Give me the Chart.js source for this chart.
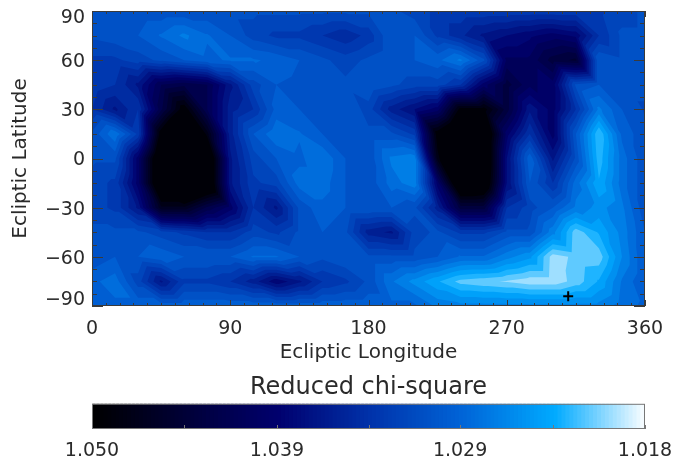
<!DOCTYPE html>
<html>
<head>
<meta charset="utf-8">
<title>Reduced chi-square map</title>
<script src="https://cdn.jsdelivr.net/npm/chart.js@4"></script>
<style>
  body { margin: 0; background: #fff; }
  canvas { display: block; }
</style>
</head>
<body>
<canvas id="mapChart" width="673" height="368"></canvas>
<canvas id="barChart" width="673" height="94"></canvas>
<script>
const longitudes = [0, 15, 30, 45, 60, 75, 90, 105, 120, 135, 150, 165, 180, 195, 210, 225, 240, 255, 270, 285, 300, 315, 330, 345, 360];
const latitudes = [90, 75, 60, 45, 30, 15, 0, -15, -30, -45, -60, -75, -90];

// Reduced chi-square, one row per latitude
const chiLat90 = [1.031, 1.031, 1.031, 1.031, 1.031, 1.031, 1.031, 1.031, 1.031, 1.031, 1.031, 1.031, 1.031, 1.031, 1.032, 1.033, 1.033, 1.033, 1.033, 1.033, 1.033, 1.033, 1.033, 1.032, 1.031];
const chiLat75 = [1.031, 1.0305, 1.030, 1.0285, 1.027, 1.0285, 1.030, 1.032, 1.033, 1.033, 1.034, 1.035, 1.0335, 1.030, 1.030, 1.033, 1.035, 1.037, 1.038, 1.039, 1.040, 1.039, 1.034, 1.031, 1.031];
const chiLat60 = [1.033, 1.033, 1.032, 1.031, 1.030, 1.029, 1.0285, 1.0285, 1.029, 1.030, 1.031, 1.032, 1.031, 1.030, 1.030, 1.029, 1.027, 1.031, 1.041, 1.041, 1.044, 1.045, 1.030, 1.031, 1.031];
const chiLat45 = [1.033, 1.034, 1.037, 1.042, 1.043, 1.042, 1.037, 1.032, 1.030, 1.0305, 1.031, 1.031, 1.030, 1.031, 1.032, 1.032, 1.034, 1.040, 1.044, 1.041, 1.040, 1.031, 1.030, 1.031, 1.031];
const chiLat30 = [1.034, 1.037, 1.034, 1.043, 1.050, 1.042, 1.036, 1.034, 1.0295, 1.030, 1.030, 1.030, 1.032, 1.036, 1.038, 1.040, 1.0495, 1.0495, 1.044, 1.037, 1.040, 1.034, 1.027, 1.030, 1.0315];
const chiLat15 = [1.031, 1.0275, 1.033, 1.050, 1.058, 1.048, 1.036, 1.030, 1.0275, 1.0285, 1.030, 1.031, 1.031, 1.031, 1.033, 1.050, 1.056, 1.054, 1.040, 1.034, 1.040, 1.030, 1.022, 1.029, 1.031];
const chiLat0 = [1.031, 1.031, 1.040, 1.054, 1.058, 1.054, 1.037, 1.032, 1.030, 1.029, 1.0275, 1.030, 1.031, 1.027, 1.0265, 1.048, 1.056, 1.054, 1.038, 1.029, 1.037, 1.031, 1.0225, 1.028, 1.031];
const chiLatS15 = [1.032, 1.033, 1.040, 1.054, 1.058, 1.054, 1.037, 1.033, 1.032, 1.028, 1.028, 1.030, 1.031, 1.028, 1.0265, 1.040, 1.054, 1.053, 1.038, 1.030, 1.034, 1.028, 1.0235, 1.028, 1.031];
const chiLatS30 = [1.032, 1.033, 1.037, 1.047, 1.047, 1.043, 1.040, 1.034, 1.037, 1.031, 1.029, 1.030, 1.030, 1.030, 1.031, 1.036, 1.044, 1.044, 1.034, 1.032, 1.030, 1.027, 1.0255, 1.027, 1.031];
const chiLatS45 = [1.031, 1.031, 1.031, 1.032, 1.033, 1.034, 1.034, 1.032, 1.033, 1.031, 1.030, 1.031, 1.036, 1.037, 1.032, 1.031, 1.033, 1.033, 1.031, 1.031, 1.0265, 1.0212, 1.0235, 1.0265, 1.030];
const chiLatS60 = [1.031, 1.030, 1.030, 1.029, 1.030, 1.030, 1.030, 1.0285, 1.0285, 1.030, 1.031, 1.030, 1.031, 1.031, 1.031, 1.030, 1.0285, 1.0285, 1.0265, 1.025, 1.020, 1.021, 1.0212, 1.026, 1.030];
const chiLatS75 = [1.029, 1.028, 1.032, 1.037, 1.033, 1.033, 1.034, 1.036, 1.039, 1.037, 1.034, 1.033, 1.031, 1.0275, 1.0255, 1.0235, 1.0215, 1.021, 1.0205, 1.0198, 1.0198, 1.0212, 1.0235, 1.0275, 1.030];
const chiLatS90 = [1.029, 1.029, 1.029, 1.029, 1.029, 1.029, 1.029, 1.029, 1.029, 1.029, 1.029, 1.029, 1.029, 1.029, 1.029, 1.027, 1.0265, 1.0265, 1.0265, 1.0265, 1.0265, 1.0265, 1.0265, 1.028, 1.029];
const chiRows = [chiLat90, chiLat75, chiLat60, chiLat45, chiLat30, chiLat15, chiLat0, chiLatS15, chiLatS30, chiLatS45, chiLatS60, chiLatS75, chiLatS90];

// The + marker
const markerLon = [310];
const markerLat = [-84];

const barTicks = [1.05, 1.0447, 1.0393, 1.034, 1.0287, 1.0233, 1.018];
const barLabels = ["1.050", "", "1.039", "", "1.029", "", "1.018"];

const chiMin = 1.018;
const chiMax = 1.05;
const bandCount = 24;

// chi value -> colour, same table as the colour bar
const colourStops = [
  [1.05, 0, 0, 0],
  [1.0447, 0, 0, 55],
  [1.0393, 0, 0, 110],
  [1.034, 0, 50, 170],
  [1.0287, 0, 100, 215],
  [1.0233, 0, 170, 255],
  [1.018, 255, 255, 255],
];

function chiColour(v) {
  for (let i = 1; i < colourStops.length; i++) {
    const a = colourStops[i - 1];
    const b = colourStops[i];
    if (v >= b[0]) {
      const t = (a[0] - v) / (a[0] - b[0]);
      const mix = (k) => Math.round(a[k] + (b[k] - a[k]) * Math.max(t, 0));
      return "rgb(" + mix(1) + "," + mix(2) + "," + mix(3) + ")";
    }
  }
  return "rgb(255,255,255)";
}

// Part of a triangle where value >= level
function clipTriangle(tri, level) {
  const out = [];
  for (let i = 0; i < 3; i++) {
    const p = tri[i];
    const q = tri[(i + 1) % 3];
    if (p.v >= level) out.push(p);
    if ((p.v >= level) !== (q.v >= level)) {
      const t = (level - p.v) / (q.v - p.v);
      out.push({ x: p.x + (q.x - p.x) * t, y: p.y + (q.y - p.y) * t, v: level });
    }
  }
  return out;
}

const filledContours = {
  id: "filledContours",
  beforeDatasetsDraw(chart) {
    const { ctx, chartArea, scales } = chart;
    const pts = chart.data.datasets[0].data;
    const cols = longitudes.length;
    const px = pts.map((p) => ({ x: scales.x.getPixelForValue(p.x), y: scales.y.getPixelForValue(p.y), v: p.v }));
    const tris = [];
    for (let r = 0; r < latitudes.length - 1; r++) {
      for (let c = 0; c < cols - 1; c++) {
        const a = px[r * cols + c];
        const b = px[r * cols + c + 1];
        const d = px[(r + 1) * cols + c];
        const e = px[(r + 1) * cols + c + 1];
        tris.push([a, b, e], [a, e, d]);
      }
    }
    ctx.save();
    ctx.beginPath();
    ctx.rect(chartArea.left, chartArea.top, chartArea.width, chartArea.height);
    ctx.clip();
    const step = (chiMax - chiMin) / bandCount;
    for (let n = 0; n < bandCount; n++) {
      const level = chiMin + n * step;
      ctx.fillStyle = chiColour(level + step / 2);
      ctx.beginPath();
      tris.forEach((tri) => {
        const poly = n === 0 ? tri : clipTriangle(tri, level);
        if (poly.length < 3) return;
        ctx.moveTo(poly[0].x, poly[0].y);
        for (let i = 1; i < poly.length; i++) ctx.lineTo(poly[i].x, poly[i].y);
        ctx.closePath();
      });
      ctx.fill();
    }
    ctx.restore();
  },
};

// IDL keeps the end labels inside the axis and sits the rest slightly low
const nudgeLatLabels = {
  id: "nudgeLatLabels",
  beforeDraw(chart) {
    const items = chart.scales.y.getLabelItems(chart.chartArea);
    items.forEach((item) => {
      if (item.label === "") return;
      const shift = item.label === "90" ? 7 : item.label === "\u221290" ? -6 : 2;
      if (!item.nudged) {
        item.options.translation[1] += shift;
        item.nudged = true;
      }
    });
  },
};

// IDL style ticks, pointing into the plot
const insideTicks = {
  id: "insideTicks",
  afterDraw(chart, args, opts) {
    const { ctx, chartArea: area, scales } = chart;
    ctx.save();
    ctx.strokeStyle = opts.colour;
    ctx.lineWidth = 1;
    ctx.beginPath();
    scales.x.ticks.forEach((t) => {
      const x = Math.round(scales.x.getPixelForValue(t.value)) + 0.5;
      const len = t.label !== "" ? opts.xMajor : opts.xMinor;
      ctx.moveTo(x, area.bottom);
      ctx.lineTo(x, area.bottom - len);
      if (opts.mirror) {
        ctx.moveTo(x, area.top);
        ctx.lineTo(x, area.top + len);
      }
    });
    if (opts.mirror) {
      scales.y.ticks.forEach((t) => {
        const y = Math.round(scales.y.getPixelForValue(t.value)) + 0.5;
        const len = t.label !== "" ? opts.yMajor : opts.yMinor;
        ctx.moveTo(area.left, y);
        ctx.lineTo(area.left + len, y);
        ctx.moveTo(area.right, y);
        ctx.lineTo(area.right - len, y);
      });
    }
    ctx.stroke();
    ctx.strokeRect(area.left + 0.5, area.top + 0.5, area.width - 1, area.height - 1);
    ctx.restore();
  },
};

const textColour = "#2a2a2a";
const fontName = "'DejaVu Sans'";

new Chart(document.getElementById("mapChart").getContext("2d"), {
  type: "scatter",
  plugins: [filledContours, nudgeLatLabels, insideTicks],
  data: {
    datasets: [
      {
        label: "chi",
        data: latitudes.flatMap((lat, r) => longitudes.map((lon, c) => ({ x: lon, y: lat, v: chiRows[r][c] }))),
        pointRadius: 0,
      },
      {
        label: "marker",
        data: markerLon.map((lon, i) => ({ x: lon, y: markerLat[i] })),
        pointStyle: "cross",
        pointRadius: 5,
        borderWidth: 2,
        borderColor: "#000",
      },
    ],
  },
  options: {
    responsive: false,
    animation: false,
    layout: { padding: { top: 11, right: 28, left: 0, bottom: 0 } },
    plugins: {
      legend: { display: false },
      tooltip: { enabled: false },
      insideTicks: { colour: "#3a3a3a", xMajor: 6, xMinor: 3, yMajor: 11, yMinor: 5, mirror: true },
    },
    scales: {
      x: {
        type: "linear",
        min: 0,
        max: 360,
        afterFit: (scale) => {
          scale.height = 62;
          scale.paddingLeft = 0;
          scale.paddingRight = 0;
        },
        grid: { display: false, drawTicks: false },
        border: { display: false },
        ticks: {
          stepSize: 9,
          autoSkip: false,
          maxRotation: 0,
          padding: 12,
          color: textColour,
          font: { family: fontName, size: 19 },
          callback: (v) => (v % 90 === 0 ? String(v) : ""),
        },
        title: {
          display: true,
          text: "Ecliptic Longitude",
          color: textColour,
          padding: { top: 0, bottom: 3 },
          font: { family: fontName, size: 20 },
        },
      },
      y: {
        type: "linear",
        min: -90,
        max: 90,
        afterFit: (scale) => {
          scale.width = 92;
          scale.paddingTop = 0;
          scale.paddingBottom = 0;
        },
        grid: { display: false, drawTicks: false },
        border: { display: false },
        ticks: {
          stepSize: 7.5,
          autoSkip: false,
          padding: 7,
          color: textColour,
          font: { family: fontName, size: 19 },
          callback: (v) => (v % 30 === 0 ? String(v).replace("-", "\u2212") : ""),
        },
        title: {
          display: true,
          text: "Ecliptic Latitude",
          color: textColour,
          padding: { top: 9, bottom: 0 },
          font: { family: fontName, size: 20 },
        },
      },
    },
  },
});

// Colour bar: one thin bar per colour step
const barValues = [];
for (let i = 0; i <= 140; i++) barValues.push(chiMin + ((chiMax - chiMin) * i) / 140);

new Chart(document.getElementById("barChart").getContext("2d"), {
  type: "bar",
  plugins: [insideTicks],
  data: {
    datasets: [
      {
        data: barValues.map((v) => ({ x: v, y: 1 })),
        backgroundColor: barValues.map(chiColour),
        barThickness: 6,
      },
    ],
  },
  options: {
    responsive: false,
    animation: false,
    layout: { padding: { top: 5, right: 28, left: 92, bottom: 0 } },
    plugins: {
      legend: { display: false },
      tooltip: { enabled: false },
      title: {
        display: true,
        text: "Reduced chi-square",
        color: textColour,
        padding: { top: 0, bottom: 2 },
        font: { family: fontName, size: 24, weight: "normal" },
      },
      insideTicks: { colour: "#777", xMajor: 4, xMinor: 4, mirror: false },
    },
    scales: {
      x: {
        type: "linear",
        reverse: true,
        offset: false,
        min: chiMin,
        max: chiMax,
        afterBuildTicks: (scale) => { scale.ticks = barTicks.map((v) => ({ value: v })); },
        afterFit: (scale) => {
          scale.height = 33;
          scale.paddingLeft = 0;
          scale.paddingRight = 0;
        },
        grid: { display: false, drawTicks: false },
        border: { display: false },
        ticks: {
          autoSkip: false,
          maxRotation: 0,
          padding: 11,
          color: textColour,
          font: { family: fontName, size: 19 },
          callback: (v) => barLabels[barTicks.indexOf(v)],
        },
      },
      y: { display: false, min: 0, max: 1 },
    },
  },
});
</script>
</body>
</html>
